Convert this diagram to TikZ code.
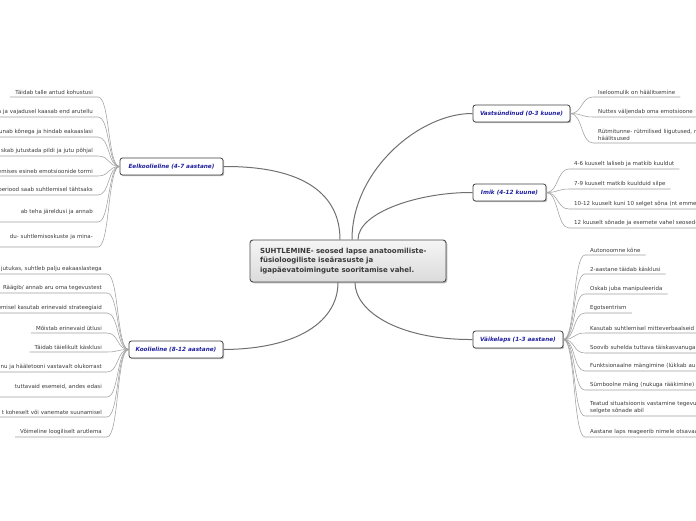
\documentclass[tikz,border=0pt]{standalone}
\usepackage{fontspec}
\setmainfont{DejaVu Sans}
\usetikzlibrary{shadows,calc}
\definecolor{branchblue}{HTML}{1F1FA0}
\definecolor{edgegray}{HTML}{707070}
\definecolor{leafgray}{HTML}{A0A0A0}
\definecolor{textgray}{HTML}{3A3A3A}
\begin{document}
\begin{tikzpicture}[x=1pt,y=-1pt,
  central/.style={draw=black!70, rounded corners=3pt, line width=0.9pt,
    top color=black!4, bottom color=black!14,
    drop shadow={shadow xshift=1.3pt, shadow yshift=-1.3pt, fill=black!45, opacity=0.6},
    text width=176pt, align=left, inner xsep=10pt, minimum height=42pt,
    font=\fontsize{7}{9.5}\selectfont\bfseries, text=textgray},
  branch/.style={draw=black!75, rounded corners=2.5pt, line width=0.8pt, fill=white,
    drop shadow={shadow xshift=1.2pt, shadow yshift=-1.2pt, fill=black!45, opacity=0.6},
    minimum height=17pt, inner xsep=2pt,
    font=\fontsize{5.7}{6.5}\selectfont\bfseries\itshape, text=branchblue},
  leafL/.style={anchor=south east, inner xsep=5pt, inner ysep=1.8pt, align=right,
    font=\fontsize{5.5}{7}\selectfont, text=textgray},
  leafR/.style={anchor=south west, inner xsep=5pt, inner ysep=1.8pt, align=left,
    font=\fontsize{5.5}{7}\selectfont, text=textgray},
  cut/.style={text width=130pt},
  trunk/.style={draw=edgegray, line width=1pt},
  twig/.style={draw=leafgray, line width=0.55pt},
]
\useasboundingbox (0,0) rectangle (696,520);
\clip (0,0) rectangle (696,520);

% central node
\node[central] (C) at (348,261) {SUHTLEMINE- seosed lapse anatoomiliste-\\füsioloogiliste iseärasuste ja\\igapäevatoimingute sooritamise vahel.};

% branch nodes
\node[branch, minimum width=103pt] (E) at (171.5,166.5) {Eelkoolieline (4-7 aastane)};
\node[branch, minimum width=94pt] (K) at (176,349.5) {Koolieline (8-12 aastane)};
\node[branch, minimum width=97pt] (V) at (521.5,113.5) {Vastsündinud (0-3 kuune)};
\node[branch, minimum width=73pt] (I) at (509.5,192.5) {Imik (4-12 kuune)};
\node[branch, minimum width=90pt] (W) at (518,339.5) {Väikelaps (1-3 aastane)};

% trunk connectors
\coordinate (cE) at ($(C.north)+(-8,0)$);
\coordinate (cV) at ($(C.north)+(4,0)$);
\coordinate (cI) at ($(C.north)+(10,0)$);
\coordinate (cK) at ($(C.south)+(-10,0)$);
\coordinate (cW) at ($(C.south)+(7,0)$);
\draw[trunk] (E.east) .. controls (305,166) and (340,195) .. (cE);
\draw[trunk] (V.west) .. controls (420,113) and (352,170) .. (cV);
\draw[trunk] (I.west) .. controls (420,192) and (358,212) .. (cI);
\draw[trunk] (K.east) .. controls (300,349) and (338,320) .. (cK);
\draw[trunk] (W.west) .. controls (400,340) and (355,312) .. (cW);

% Eelkoolieline leaves
\node[leafL] (e1) at (98,97) {Täidab talle antud kohustusi};
\node[leafL,cut] (e2) at (98,117) {a ja vajadusel kaasab end arutellu};
\node[leafL,cut] (e3) at (98,137) {unab kõnega ja hindab eakaaslasi};
\node[leafL,cut] (e4) at (98,156) {skab jutustada pildi ja jutu põhjal};
\node[leafL,cut] (e5) at (98,176) {emises esineb emotsioonide tormi};
\node[leafL,cut] (e6) at (98,195) {periood saab suhtlemisel tähtsaks};
\node[leafL,cut] (e7) at (98,222) {ab teha järeldusi ja annab\\\mbox{}};
\node[leafL,cut] (e8) at (98,247) {du- suhtlemisoskuste ja mina-\\\mbox{}};
\foreach \n in {e1,e2,e3,e4,e5,e6,e7,e8}{
  \draw[twig] (\n.south west) -- (\n.south east) .. controls +(12,0) and +(-12,0) .. (E.west);
}

% Koolieline leaves
\node[leafL,cut] (k1) at (107,274) {jutukas, suhtleb palju eakaaslastega};
\node[leafL] (k2) at (107,293) {Räägib/ annab aru oma tegevustest};
\node[leafL,cut] (k3) at (107,313) {emisel kasutab erinevaid strateegiaid};
\node[leafL] (k4) at (107,333) {Mõistab erinevaid ütlusi};
\node[leafL] (k5) at (107,352) {Täidab täielikult käsklusi};
\node[leafL,cut] (k6) at (107,372) {nu ja hääletooni vastavalt olukorrast};
\node[leafL,cut] (k7) at (107,397) {tuttavaid esemeid, andes edasi\\\mbox{}};
\node[leafL,cut] (k8) at (107,417) {t koheselt või vanemate suunamisel};
\node[leafL] (k9) at (107,437) {Võimeline loogiliselt arutlema};
\foreach \n in {k1,k2,k3,k4,k5,k6,k7,k8,k9}{
  \draw[twig] (\n.south west) -- (\n.south east) .. controls +(12,0) and +(-12,0) .. (K.west);
}

% Vastsündinud leaves
\node[leafR] (v1) at (593,97) {Iseloomulik on häälitsemine};
\node[leafR] (v2) at (593,117) {Nuttes väljendab oma emotsioone};
\node[leafR,cut] (v3) at (593,143) {Rütmitunne- rütmilised liigutused, r\\häälitsused};
\foreach \n in {v1,v2,v3}{
  \draw[twig] (V.east) .. controls +(12,0) and +(-12,0) .. (\n.south west) -- (\n.south east);
}

% Imik leaves
\node[leafR] (i1) at (569,169) {4-6 kuuselt laliseb ja matkib kuuldut};
\node[leafR] (i2) at (569,189) {7-9 kuuselt matkib kuulduid silpe};
\node[leafR,cut] (i3) at (569,209) {10-12 kuuselt kuni 10 selget sõna (nt emme};
\node[leafR,cut] (i4) at (569,228) {12 kuuselt sõnade ja esemete vahel seosed-};
\foreach \n in {i1,i2,i3,i4}{
  \draw[twig] (I.east) .. controls +(12,0) and +(-12,0) .. (\n.south west) -- (\n.south east);
}

% Väikelaps leaves
\node[leafR] (w1) at (585,255) {Autonoomne kõne};
\node[leafR] (w2) at (585,274) {2-aastane täidab käsklusi};
\node[leafR] (w3) at (585,294) {Oskab juba manipuleerida};
\node[leafR] (w4) at (585,313) {Egotsentrism};
\node[leafR,cut] (w5) at (585,333) {Kasutab suhtlemisel mitteverbaalseid};
\node[leafR,cut] (w6) at (585,353) {Soovib suhelda tuttava täiskasvanuga};
\node[leafR,cut] (w7) at (585,371) {Funktsionaalne mängimine (lükkab au};
\node[leafR] (w8) at (585,390) {Sümboolne mäng (nukuga rääkimine)};
\node[leafR,cut] (w9) at (585,416) {Teatud situatsioonis vastamine tegevu\\selgete sõnade abil};
\node[leafR,cut] (w10) at (585,437) {Aastane laps reageerib nimele otsavaa};
\foreach \n in {w1,w2,w3,w4,w5,w6,w7,w8,w9,w10}{
  \draw[twig] (W.east) .. controls +(12,0) and +(-12,0) .. (\n.south west) -- (\n.south east);
}
\end{tikzpicture}
\end{document}
